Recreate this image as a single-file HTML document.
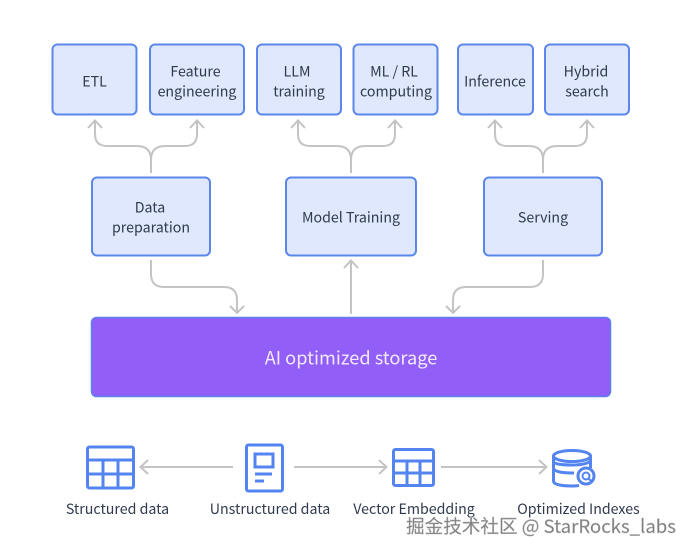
<!DOCTYPE html>
<html><head><meta charset="utf-8"><style>
html,body{margin:0;padding:0;background:#fff}
svg{display:block}
text{font-family:"Noto Sans CJK SC","Liberation Sans",sans-serif;fill:#2f3a4c;text-anchor:middle;font-size:14.2px}
.b{fill:#e0e8fd;stroke:#5b87ea;stroke-width:2}
.c{fill:none;stroke:#c4c4c4;stroke-width:2}
.i{fill:none;stroke:#5384ef;stroke-width:3}
</style></head><body>
<svg width="690" height="552" viewBox="0 0 690 552" xmlns="http://www.w3.org/2000/svg">
<rect width="690" height="552" fill="#fff"/>
<rect class="b" x="52.5" y="44.5" width="84" height="70" rx="5"/>
<rect class="b" x="150" y="44.5" width="94" height="70" rx="5"/>
<rect class="b" x="257" y="44.5" width="84" height="70" rx="5"/>
<rect class="b" x="353.5" y="44.5" width="84" height="70" rx="5"/>
<rect class="b" x="458" y="44.5" width="75" height="70" rx="5"/>
<rect class="b" x="545" y="44.5" width="84" height="70" rx="5"/>
<rect class="b" x="92" y="177.5" width="118" height="78" rx="5"/>
<rect class="b" x="286" y="177.5" width="130" height="78" rx="5"/>
<rect class="b" x="484" y="177.5" width="118" height="78" rx="5"/>
<rect x="91.5" y="317.5" width="519" height="79" rx="5" fill="#915ef7" stroke="#5f7fee" stroke-width="1.5"/>
<g class="c">
<path d="M151 173V160Q151 146 137 146H107Q95 146 95 134V121M151 160Q151 146 165 146H185Q197 146 197 134V121"/>
<path d="M88 128L95 120.5L102 128M190 128L197 120.5L204 128"/>
<path d="M351 173V160Q351 146 337 146H310Q298 146 298 134V121M351 160Q351 146 365 146H383Q395 146 395 134V121"/>
<path d="M291 128L298 120.5L305 128M388 128L395 120.5L402 128"/>
<path d="M543 173V160Q543 146 529 146H507Q495 146 495 134V121M543 160Q543 146 557 146H575Q587 146 587 134V121"/>
<path d="M488 128L495 120.5L502 128M580 128L587 120.5L594 128"/>
<path d="M151 260V274Q151 287 164 287H224Q237 287 237 300V313"/>
<path d="M230 306L237 313L244 306"/>
<path d="M351 314V261M344 268L351 260.5L358 268"/>
<path d="M543 260V274Q543 287 530 287H466Q453 287 453 300V313"/>
<path d="M446 306L453 313L460 306"/>
<path d="M233 467H141M148 460L140.5 467L148 474"/>
<path d="M294 467H386M379 460L386.5 467L379 474"/>
<path d="M441 467H546M539 460L546.5 467L539 474"/>
</g>
<text x="94.500" y="86.500">ETL</text>
<text x="195.500" y="76.500">Feature</text><text x="197" y="96.500">engineering</text>
<text x="297" y="76.500">LLM</text><text x="299" y="96.500">training</text>
<text x="394" y="76.500">ML / RL</text><text x="396" y="96.500">computing</text>
<text x="495" y="86.500">Inference</text>
<text x="586" y="76.500">Hybrid</text><text x="587" y="96.500">search</text>
<text x="150" y="212.500">Data</text><text x="151" y="232.500">preparation</text>
<text x="351" y="222.500">Model Training</text>
<text x="543" y="222.500">Serving</text>
<text x="351" y="364.500" style="fill:#f3e9ff;font-size:18.200px">AI optimized storage</text>
<g class="i">
<rect x="87.500" y="447" width="46" height="41" rx="2"/>
<path d="M88 460H133M88 474H133M103 460V488M118 460V488"/>
<rect x="246.500" y="445" width="36" height="46" rx="2"/>
<rect x="255" y="454" width="18" height="13"/>
<path d="M255 474H272M255 481H264"/>
<rect x="393.500" y="449.500" width="40" height="36" rx="2"/>
<path d="M394 461H433M394 473H433M407 461V485M420 461V485"/>
<ellipse cx="572" cy="456" rx="18.500" ry="5.500"/>
<path d="M553.500 456V481Q553.500 486 572 486Q576 486 579 485.500M590.500 456V468M553.500 468Q554 473 572 473H574M553.500 462Q556 465 572 465Q586 465 590.500 461"/>
<circle cx="586" cy="476" r="8" fill="#fff"/>
</g>
<circle cx="586" cy="476" r="3.500" fill="none" stroke="#5384ef" stroke-width="2"/>
<path d="M588.500 478.500L592 482" stroke="#5384ef" stroke-width="2"/>
<text x="117.500" y="514">Structured data</text>
<text x="270" y="514">Unstructured data</text>
<text x="414" y="514">Vector Embedding</text>
<text x="578.500" y="514">Optimized Indexes</text>
<text x="541" y="533" style="font-size:18.600px;fill:#7d7d7d;stroke:#b5b5b5;stroke-width:.4">掘金技术社区 @ StarRocks_labs</text>
</svg>
</body></html>
